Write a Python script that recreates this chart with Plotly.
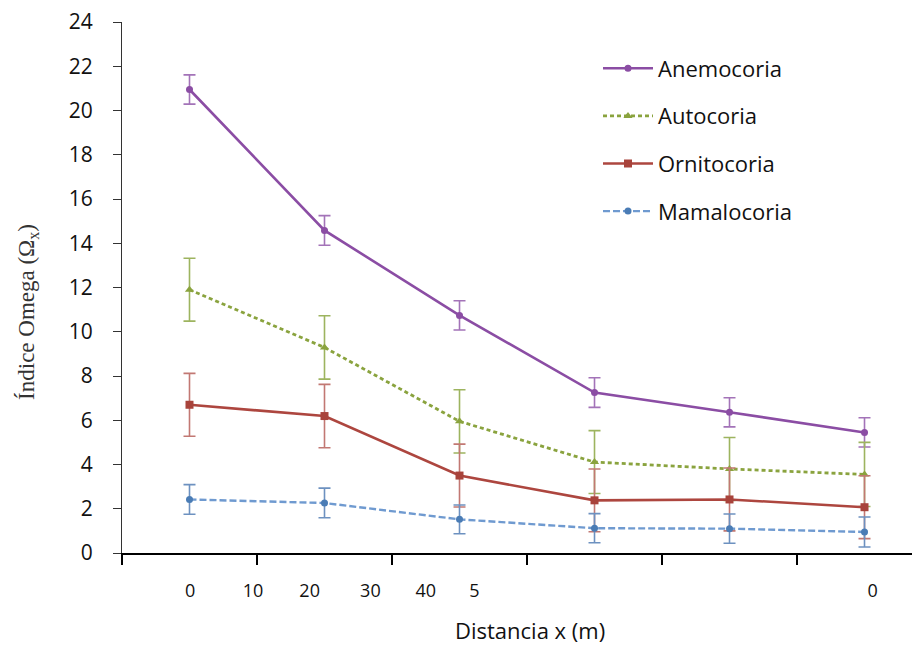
import plotly.graph_objects as go

# category positions (centre of each band on the x axis)
categories = [0.5, 1.5, 2.5, 3.5, 4.5, 5.5]

anemocoria = [20.95, 14.58, 10.74, 7.25, 6.36, 5.45]
anemocoria_err = [0.66, 0.67, 0.66, 0.67, 0.66, 0.66]
autocoria = [11.9, 9.29, 5.95, 4.11, 3.8, 3.55]
autocoria_err = [1.42, 1.43, 1.43, 1.42, 1.42, 1.45]
ornitocoria = [6.7, 6.19, 3.5, 2.38, 2.42, 2.07]
ornitocoria_err = [1.42, 1.43, 1.42, 1.42, 1.42, 1.42]
mamalocoria = [2.42, 2.26, 1.52, 1.12, 1.10, 0.95]
mamalocoria_err = [0.67, 0.67, 0.65, 0.66, 0.66, 0.68]

# x tick labels as they appear in the original (positions in axis units)
xtick_pos = [0.504, 0.97, 1.39, 1.84, 2.25, 2.61, 5.56]
xtick_text = ["0", "10", "20", "30", "40", "5", "0"]
xtick_marks = [0, 1, 2, 3, 4, 5, 6]
ytick_vals = list(range(0, 25, 2))

x_title = "Distancia x (m)"
y_title = "Índice Omega (Ω<sub>x</sub>)"

series = [
    ("Anemocoria", anemocoria, anemocoria_err, "#8b4da4", "#a373b8", "solid", "circle", 7, 2.6),
    ("Autocoria", autocoria, autocoria_err, "#8aa33e", "#9db45f", "4px,3px", "triangle-up", 8, 2.8),
    ("Ornitocoria", ornitocoria, ornitocoria_err, "#ad463f", "#c27873", "solid", "square", 8, 2.6),
    ("Mamalocoria", mamalocoria, mamalocoria_err, "#6f9ad0", "#6d91c0", "7px,3px", "circle", 7, 2.4),
]
marker_colors = {"Anemocoria": "#8b4da4", "Autocoria": "#8aa33e",
                 "Ornitocoria": "#a8433b", "Mamalocoria": "#4a7cb5"}

SANS = "'Open Sans', sans-serif"

fig = go.Figure()
for i, (name, vals, errs, lc, ec, dash, sym, ms, lw) in enumerate(series):
    fig.add_trace(go.Scatter(
        x=categories, y=vals, name=name, mode="lines+markers",
        legendgroup=f"g{i}",
        line=dict(color=lc, width=lw, dash=dash),
        marker=dict(symbol=sym, size=ms, color=marker_colors[name]),
        error_y=dict(type="data", array=errs, visible=True, color=ec,
                     thickness=1.6, width=6),
    ))

fig.update_layout(
    width=912, height=638,
    margin=dict(l=114, r=0, t=14, b=93),
    paper_bgcolor="white", plot_bgcolor="white",
    font=dict(family=SANS, color="#111111"),
    showlegend=True,
    legend=dict(x=0.5965, y=0.952, xanchor="left", yanchor="top",
                font=dict(family=SANS, size=22, color="#111111"),
                bgcolor="rgba(0,0,0,0)", tracegroupgap=16, itemwidth=50),
    xaxis=dict(range=[0, 5.911], showgrid=False, zeroline=False, automargin=False,
               showline=True, linecolor="black", linewidth=2,
               tickmode="array", tickvals=xtick_pos, ticktext=xtick_text,
               ticks="", ticklabelstandoff=20, ticklabeloverflow="allow",
               tickfont=dict(family=SANS, size=18, color="#111111"),
               minor=dict(tickmode="array", tickvals=xtick_marks, ticks="outside",
                          ticklen=10, tickwidth=1.5, tickcolor="black")),
    yaxis=dict(range=[0, 24], showgrid=False, zeroline=False, automargin=False,
               showline=True, linecolor="#333333", linewidth=1.3,
               tickmode="array", tickvals=ytick_vals,
               ticks="outside", ticklen=8, tickwidth=1.3, tickcolor="#333333",
               ticklabelstandoff=16, ticklabeloverflow="allow",
               tickfont=dict(family=SANS, size=21, color="#111111")),
    annotations=[
        dict(text=x_title, xref="paper", yref="paper", x=0.511, y=-0.145,
             xanchor="center", yanchor="middle", showarrow=False,
             font=dict(family=SANS, size=22, color="#111111")),
        dict(text=y_title, xref="paper", yref="paper", x=-0.1178, y=0.454,
             xanchor="center", yanchor="middle", showarrow=False, textangle=-90,
             font=dict(family="'Liberation Serif', serif", size=23, color="#333333")),
    ],
)

fig.write_html("out.html")
